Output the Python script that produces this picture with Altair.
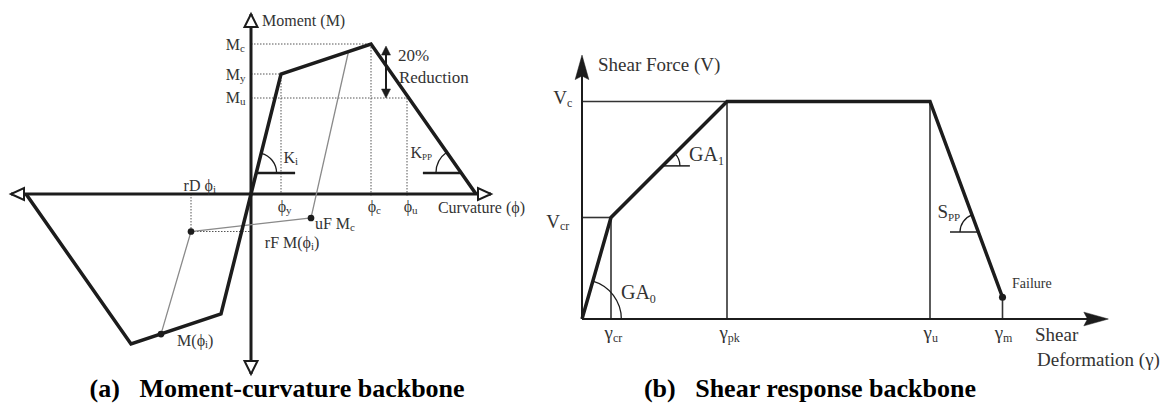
import math
import altair as alt
import pandas as pd

W, H = 1173, 403
FONT = "Liberation Serif"
INK = "#1c1c1c"
TEXT = "#333333"
GREY = "#8a8a8a"

# ---------------- (a) moment-curvature backbone (schematic units) ----------------
phi_y, phi_c, phi_u = 1.0, 4.0, 5.2
M_y, M_c, M_u = 4.0, 5.0, 3.2
backbone_phi = [-7.5, -4.0, -1.0, 0.0, 1.0, 4.0, 7.5]
backbone_M = [0.0, -5.0, -4.0, 0.0, 4.0, 5.0, 0.0]
# unloading / reloading branch with its three marked states
unload_phi = [-3.0, -2.0, 2.0, 3.25]
unload_M = [-4.67, -1.25, -0.8, 4.75]
marked_phi = [-3.0, -2.0, 2.0]
marked_M = [-4.67, -1.25, -0.8]
reduction_phi = 4.5

# ---------------- (b) shear response backbone (schematic units) ----------------
g_cr, g_pk, g_u, g_m = 1.0, 5.0, 12.0, 14.5
V_cr, V_c, V_fail = 3.5, 7.5, 0.75
shear_g = [0.0, g_cr, g_pk, g_u, g_m]
shear_V = [0.0, V_cr, V_c, V_c, V_fail]


def scales(origin_x, origin_y, unit):
    """Linear scales whose origin sits at the given spot of the canvas."""
    xs = alt.Scale(domain=[-origin_x / unit, (W - origin_x) / unit], nice=False, zero=False)
    ys = alt.Scale(domain=[(origin_y - H) / unit, origin_y / unit], nice=False, zero=False)
    return xs, ys


XA, YA = scales(251, 194, 30)
XB, YB = scales(582, 319, 29)


def enc(xs, ys):
    return dict(x=alt.X("x:Q", scale=xs, axis=None), y=alt.Y("y:Q", scale=ys, axis=None))


def segments(rows, xs, ys, **mark):
    df = pd.DataFrame(rows, columns=["x", "y", "x2", "y2"])
    return alt.Chart(df).mark_rule(**mark).encode(**enc(xs, ys), x2="x2:Q", y2="y2:Q")


def path(xv, yv, xs, ys, **mark):
    df = pd.DataFrame({"x": xv, "y": yv, "i": list(range(len(xv)))})
    return alt.Chart(df).mark_line(**mark).encode(**enc(xs, ys), order="i:Q")


def dots(xv, yv, xs, ys, size=45):
    df = pd.DataFrame({"x": xv, "y": yv})
    return alt.Chart(df).mark_point(filled=True, color=INK, size=size, opacity=1).encode(**enc(xs, ys))


def heads(rows, xs, ys, size, fill, stroke, sw):
    df = pd.DataFrame(rows, columns=["x", "y", "shape"])
    return alt.Chart(df).mark_point(
        filled=True, color=fill, fill=fill, stroke=stroke, strokeWidth=sw,
        size=size, opacity=1, fillOpacity=1, strokeJoin="miter"
    ).encode(**enc(xs, ys), shape=alt.Shape("shape:N", scale=None))


def arc(cx, cy, t0, t1, r, xs, ys, w=1.3):
    df = pd.DataFrame({"x": [cx], "y": [cy]})
    return alt.Chart(df).mark_arc(
        theta=t0, theta2=t1, radius=r, radius2=r - w, color=INK
    ).encode(**enc(xs, ys))


def texts(rows, xs, ys, align, weight="normal", color=TEXT):
    df = pd.DataFrame(rows, columns=["text", "x", "y", "size"])
    return alt.Chart(df).mark_text(
        align=align, baseline="middle", font=FONT, fontWeight=weight, color=color
    ).encode(**enc(xs, ys), text="text:N", size=alt.Size("size:Q", scale=None))


def direction(dx, dy):
    """Clockwise angle from 12 o'clock, as used by arc marks."""
    return math.atan2(dx, dy) % (2 * math.pi)


# arrowhead outlines: tip at the anchor point
UP = "M0,0L0.5,1L-0.5,1Z"
DOWN = "M0,0L0.5,-1L-0.5,-1Z"
LEFT = "M0,0L1,0.46L1,-0.46Z"
RIGHT = "M0,0L-1,0.46L-1,-0.46Z"
UP_B = "M0,0L0.28,1L0,0.85L-0.28,1Z"
RIGHT_B = "M0,0L-1,0.28L-0.85,0L-1,-0.28Z"

# ---------------- panel (a) ----------------
tick_M = 0.7
ki_phi = tick_M * phi_y / M_y
kpp_phi = backbone_phi[-1] - tick_M * (backbone_phi[-1] - phi_c) / M_c

panel_a = alt.layer(
    segments([(0, M_c, phi_c, M_c), (phi_c, M_c, phi_c, -0.1),
              (0, M_y, phi_y, M_y), (phi_y, M_y, phi_y, 0),
              (0, M_u, phi_u, M_u), (phi_u, M_u, phi_u, -0.1),
              (marked_phi[1], 0, marked_phi[1], marked_M[1]),
              (marked_phi[1], marked_M[1], 0, marked_M[1])],
             XA, YA, color="#555555", strokeWidth=1, strokeDash=[1.5, 1.5]),
    segments([(-8, 0, 8, 0), (0, -6, 0, 6)], XA, YA, color=INK, strokeWidth=3),
    path(unload_phi, unload_M, XA, YA, color=GREY, strokeWidth=1.3),
    path(backbone_phi, backbone_M, XA, YA, color=INK, strokeWidth=3.5, strokeJoin="miter"),
    segments([(ki_phi, tick_M, 1.47, tick_M), (5.73, tick_M, kpp_phi, tick_M)],
             XA, YA, color=INK, strokeWidth=2.5),
    arc(ki_phi, tick_M, direction(phi_y, M_y), math.pi / 2, 21, XA, YA),
    arc(kpp_phi, tick_M, 1.5 * math.pi,
        direction(phi_c - backbone_phi[-1], M_c), 26, XA, YA),
    segments([(reduction_phi, 4.85, reduction_phi, 3.3)], XA, YA, color=INK, strokeWidth=2),
    heads([(reduction_phi, 4.93, UP), (reduction_phi, M_u, DOWN)], XA, YA,
          size=324, fill=INK, stroke=INK, sw=0.5),
    heads([(0, 6, UP), (0, -6, DOWN), (-8, 0, LEFT), (8, 0, RIGHT)], XA, YA,
          size=676, fill="white", stroke=INK, sw=2),
    dots(marked_phi, marked_M, XA, YA),
    texts([("M", -0.37, 4.97, 16), ("M", -0.37, 3.97, 16), ("M", -0.37, 3.2, 16),
           ("K", 1.47, 1.2, 16), ("K", 5.7, 1.37, 16),
           ("ϕ", 1.17, -0.43, 16), ("ϕ", 4.17, -0.43, 16), ("ϕ", 5.37, -0.43, 16),
           ("rD ϕ", -1.27, 0.27, 16), ("rF M(ϕ", 2.0, -1.63, 16),
           ("uF M", 3.3, -1.0, 16), ("M(ϕ", -1.53, -4.9, 16)], XA, YA, "right"),
    texts([("c", -0.37, 4.83, 11), ("y", -0.37, 3.83, 11), ("u", -0.37, 3.06, 11),
           ("i", 1.47, 1.06, 11), ("PP", 5.7, 1.23, 9),
           ("y", 1.17, -0.57, 11), ("c", 4.17, -0.57, 11), ("u", 5.37, -0.57, 11),
           ("i", -1.27, 0.13, 11), ("i", 2.0, -1.77, 11), ("c", 3.3, -1.14, 11),
           ("i", -1.53, -5.04, 11),
           ("Moment (M)", 0.37, 5.77, 16), ("20%", 4.9, 4.6, 17), ("Reduction", 4.93, 3.87, 17),
           ("Curvature (ϕ)", 6.23, -0.45, 16), (")", 2.1, -1.63, 16), (")", -1.43, -4.9, 16)],
          XA, YA, "left"),
    texts([("(a)\u2002\u00a0Moment-curvature backbone", 0.87, -6.5, 26)], XA, YA, "center",
          weight="bold", color="#000000"),
)

# ---------------- panel (b) ----------------
ga1_V = 5.28
ga1_g = g_cr + (ga1_V - V_cr) * (g_pk - g_cr) / (V_c - V_cr)
spp_V = 3.0
spp_g = g_m - (spp_V - V_fail) * (g_m - g_u) / (V_c - V_fail)

panel_b = alt.layer(
    segments([(0, V_cr, g_cr, V_cr), (g_cr, V_cr, g_cr, 0),
              (0, V_c, g_pk, V_c), (g_pk, V_c, g_pk, 0),
              (g_u, V_c, g_u, 0), (g_m, V_fail, g_m, 0)],
             XB, YB, color="#333333", strokeWidth=1.6),
    segments([(0, 0, 0, 9.0), (0, 0, 18.0, 0)], XB, YB, color=INK, strokeWidth=2),
    path(shear_g, shear_V, XB, YB, color=INK, strokeWidth=3.5, strokeJoin="miter"),
    segments([(ga1_g, ga1_V, 3.72, ga1_V), (12.69, spp_V, spp_g, spp_V)],
             XB, YB, color=INK, strokeWidth=1.5),
    arc(0, 0, direction(g_cr, V_cr), math.pi / 2, 40, XB, YB),
    arc(ga1_g, ga1_V, direction(g_pk - g_cr, V_c - V_cr), math.pi / 2, 18, XB, YB),
    arc(spp_g, spp_V, 1.5 * math.pi, direction(g_u - g_m, V_c - V_fail), 19, XB, YB),
    heads([(0, 9.1, UP_B), (18.15, 0, RIGHT_B)], XB, YB,
          size=2400, fill=INK, stroke=INK, sw=0.5),
    dots([g_m], [V_fail], XB, YB, size=50),
    texts([("V", -0.52, 7.62, 19), ("V", -0.76, 3.36, 19),
           ("γ", 1.07, -0.48, 19), ("γ", 5.03, -0.48, 19),
           ("γ", 12.07, -0.48, 19), ("γ", 14.52, -0.48, 19),
           ("GA", 4.69, 5.66, 20), ("GA", 2.34, 0.9, 20), ("S", 12.62, 3.69, 19)],
          XB, YB, "right"),
    texts([("c", -0.52, 7.45, 12), ("cr", -0.76, 3.19, 12),
           ("cr", 1.07, -0.65, 12), ("pk", 5.03, -0.65, 12),
           ("u", 12.07, -0.65, 12), ("m", 14.52, -0.65, 12),
           ("1", 4.69, 5.45, 12), ("0", 2.34, 0.69, 12), ("PP", 12.62, 3.5, 11),
           ("Shear Force (V)", 0.55, 8.76, 19), ("Shear", 15.62, -0.55, 19),
           ("Deformation (γ)", 15.69, -1.41, 19), ("Failure", 14.83, 1.21, 14)],
          XB, YB, "left"),
    texts([("(b)\u2002\u00a0Shear response backbone", 7.86, -2.41, 26)], XB, YB, "center",
          weight="bold", color="#000000"),
)

chart = (
    alt.layer(panel_a, panel_b)
    .resolve_scale(x="independent", y="independent")
    .properties(width=W, height=H, padding=0, autosize=alt.AutoSizeParams(type="none"),
                background="white")
    .configure_view(stroke=None)
)

chart.save("out.html", embed_options={"renderer": "svg", "actions": False})
